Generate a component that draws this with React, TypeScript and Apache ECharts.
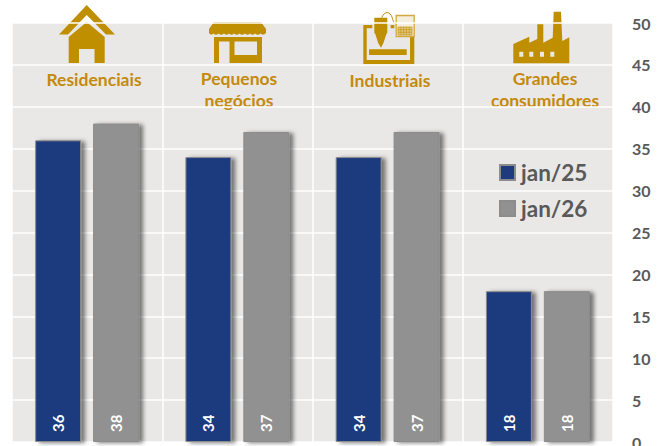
import React, { useEffect, useRef } from "react";
import * as echarts from "echarts";

const categories = ["Residenciais", "Pequenos\nnegócios", "Industriais", "Grandes\nconsumidores"];
const jan25 = [36, 34, 34, 18];
const jan26 = [38, 37, 37, 18];
const seriesNames = ["jan/25", "jan/26"];
const categoryTitleCentres = [
  [94, 79],
  [239, 89],
  [390, 80],
  [545, 89],
];

const GOLD = "#BF8F00";
const LABEL_GOLD = "#C48A0C";

const ICONS: Record<string, string> = {
  icoHouse:
    "M86.7 5 L115 34.5 L106 34.5 L86.7 15 L68 34.5 L59 34.5 Z M86.7 22 L104.7 37 L104.7 63 L94.5 63 L94.5 49 L79 49 L79 63 L68.7 63 L68.7 37 Z",
  icoStore:
    "M214 22 H261 L266 29 V33 Q263 36 260.500 33.500 Q258 36 255 33.500 Q252.500 36 250 33.500 Q247.500 36 245 33.500 Q242 36 239.500 33.500 Q237 36 234 33.500 Q231.500 36 229 33.500 Q226.500 36 224 33.500 Q221 36 218.500 33.500 Q216 36 213.500 33.500 Q211 36 209 33 V29 Z " +
    "M214 37 H262 V63 H229.500 V41.500 H219 V63 H214 Z M234.500 41.500 V55 H257 V41.500 Z",
  icoMachine:
    "M363.300 25 H372.300 V28.300 H366.700 V60 H410 V36.700 H414.300 V64.300 H363.300 Z " +
    "M369 49.300 H406.700 V55 H369 Z " +
    "M374.300 17.700 H387.300 V33.300 H386.700 L383.300 43.300 L381 47.700 L378.300 43.300 L375 33.300 H374.300 Z " +
    "M390.700 25 H394.300 V28.300 H390.700 Z",
  icoFactory:
    "M513.300 44 L529.300 36.700 V42.700 L537.300 39 V24.300 H543.300 V42.700 L552.700 37.700 L553.700 11.700 H561 L562.300 41 L569.300 37.300 V63.300 H513.300 Z " +
    "M519.300 51.700 V56.700 H523.300 V51.700 Z M529.300 51.700 V56.700 H533.300 V51.700 Z M540 51.700 V56.700 H544 V51.700 Z M550.300 51.700 V56.700 H554.300 V51.700 Z",
  icoCable: "M381.700 17.700 C385 10 390 12 392 17 C393 21 394 23 395.700 24",
  icoHatch:
    "M398 27 H412 V35 H398 Z M398 29.700 H412 M398 32.300 H412 M400.800 27 V35 M403.600 27 V35 M406.400 27 V35 M409.200 27 V35",
};
Object.keys(ICONS).forEach((k) => {
  echarts.graphic.registerShape(k, (echarts.graphic as any).extendPath(ICONS[k], {}));
});

export default function App() {
  const ref = useRef<HTMLDivElement>(null);
  useEffect(() => {
    const chart = echarts.init(ref.current!, undefined, { renderer: "svg" });
    const barLabel = {
      show: true,
      position: "insideBottom",
      distance: 10,
      rotate: 90,
      align: "left",
      verticalAlign: "middle",
      color: "#fff",
      fontFamily: "Lato",
      fontWeight: "bold",
      fontSize: 15,
    };
    const shadow = {
      shadowBlur: 4,
      shadowColor: "rgba(0,0,0,0.5)",
      shadowOffsetX: 4,
      shadowOffsetY: 1,
    };
    const solid = (type: string) => ({
      type,
      x: 0,
      y: 0,
      silent: true,
      style: { fill: GOLD },
    });
    chart.setOption({
      animation: false,
      textStyle: { fontFamily: "Lato" },
      grid: {
        left: 12,
        right: 46,
        top: 23,
        bottom: 4,
        outerBoundsMode: "none",
        show: true,
        backgroundColor: "#E9E8E7",
        borderWidth: 0,
      },
      legend: {
        left: 499,
        top: 161,
        padding: 0,
        orient: "vertical",
        icon: "rect",
        itemWidth: 15,
        itemHeight: 15,
        itemGap: 13,
        data: seriesNames,
        textStyle: { color: "#595959", fontFamily: "Lato", fontWeight: "bold", fontSize: 22.5, padding: [0, 0, 0, 1] },
      },
      xAxis: {
        type: "category",
        data: categories,
        axisLine: { show: false },
        axisTick: { show: false },
        splitLine: { show: true, lineStyle: { color: "#fff", width: 1.5 } },
        axisLabel: { show: false },
      },
      yAxis: {
        type: "value",
        position: "right",
        min: 0,
        max: 50,
        interval: 5,
        axisLine: { show: false },
        axisTick: { show: false },
        splitLine: { show: true, lineStyle: { color: "#fff", width: 1.5 } },
        axisLabel: {
          margin: 19,
          padding: [0, 0, 3, 0],
          color: "#595959",
          fontFamily: "Lato",
          fontWeight: "bold",
          fontSize: 16,
        },
      },
      series: [
        {
          name: seriesNames[0],
          type: "bar",
          data: jan25,
          barWidth: 46,
          barGap: "26%",
          label: barLabel,
          itemStyle: { color: "#1F3A7E", borderColor: "#8C8C8C", borderWidth: 1, ...shadow },
        },
        {
          name: seriesNames[1],
          type: "bar",
          data: jan26,
          barWidth: 46,
          label: barLabel,
          itemStyle: { color: "#919191", borderColor: "#8C8C8C", borderWidth: 1, ...shadow },
        },
      ],
      graphic: [
        solid("icoHouse"),
        solid("icoStore"),
        solid("icoMachine"),
        solid("icoFactory"),
        { type: "icoCable", x: 0, y: 0, silent: true, style: { fill: "none", stroke: GOLD, lineWidth: 1 } },
        {
          type: "rect",
          silent: true,
          shape: { x: 396.2, y: 15.5, width: 18, height: 21 },
          style: { fill: "#F5EEDD", stroke: "#D2A93F", lineWidth: 1.3 },
        },
        { type: "icoHatch", x: 0, y: 0, silent: true, style: { fill: "#E3C98A", stroke: "#C99A20", lineWidth: 0.8 } },
        ...categories.map((c, i) => ({
          type: "text",
          silent: true,
          x: categoryTitleCentres[i][0],
          y: categoryTitleCentres[i][1],
          style: {
            text: c,
            align: "center",
            verticalAlign: "middle",
            lineHeight: 22,
            fill: LABEL_GOLD,
            fontFamily: "Lato",
            fontWeight: "bold",
            fontSize: 17.5,
          },
        })),
      ],
    });
    return () => chart.dispose();
  }, []);
  return <div ref={ref} style={{ position: "absolute", left: 0, top: 0, width: 659, height: 446 }} />;
}
